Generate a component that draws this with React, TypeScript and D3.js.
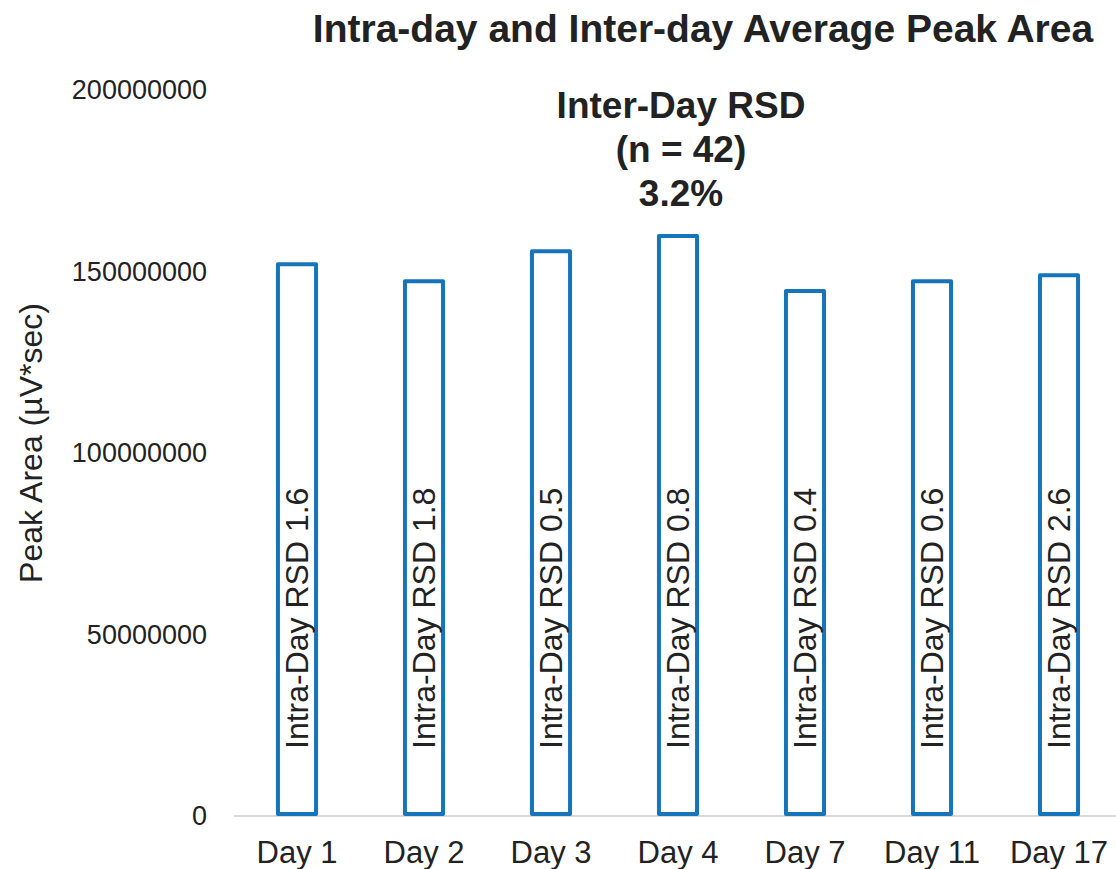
import React from "react";
import * as d3 from "d3";

const days = ["Day 1", "Day 2", "Day 3", "Day 4", "Day 7", "Day 11", "Day 17"];
const peakArea = [152000000, 147300000, 155600000, 159800000, 144600000, 147300000, 149000000];
const intraRsd = ["1.6", "1.8", "0.5", "0.8", "0.4", "0.6", "2.6"];
const yTicks = [0, 50000000, 100000000, 150000000, 200000000];
const annotationLines = ["Inter-Day RSD", "(n = 42)", "3.2%"];

const W = 1116;
const H = 869;
const FONT = "'Liberation Sans', Arial, Helvetica, sans-serif";
const BLUE = "#1574ba";

export default function App() {
  const x = d3
    .scaleBand<string>()
    .domain(days)
    .range([233.5, 1122.5])
    .paddingInner(0.7)
    .paddingOuter(0.35);
  const y = d3.scaleLinear().domain([0, 200000000]).range([816, 90]);
  const bw = x.bandwidth();

  return (
    <svg
      width={W}
      height={H}
      style={{ position: "absolute", left: 0, top: 0, background: "#fff" }}
      fontFamily={FONT}
    >
      <rect x={0} y={0} width={W} height={H} fill="#fff" />
      <text x={703} y={42} textAnchor="middle" fontSize={39} fontWeight="bold" fill="#222">
        Intra-day and Inter-day Average Peak Area
      </text>

      {yTicks.map((t) => (
        <text key={t} x={207} y={y(t)} dy="0.35em" textAnchor="end" fontSize={27} fill="#222">
          {t}
        </text>
      ))}

      <text
        transform={`translate(42, 443) rotate(-90)`}
        textAnchor="middle"
        fontSize={32}
        fill="#222"
      >
        Peak Area (µV*sec)
      </text>

      <line x1={234} x2={W} y1={y(0)} y2={y(0)} stroke="#d9d9d9" strokeWidth={2} />

      {days.map((d, i) => (
        <g key={d}>
          <rect
            x={x(d)!}
            y={y(peakArea[i])}
            width={bw}
            height={y(0) - y(peakArea[i]) - 2}
            fill="#fff"
            stroke={BLUE}
            strokeWidth={4}
            strokeLinejoin="round"
          />
          <text
            transform={`translate(${x(d)! + bw / 2}, ${y(0) - 67}) rotate(-90)`}
            dy="0.35em"
            textAnchor="start"
            fontSize={32}
            fill="#222"
          >
            {`Intra-Day RSD ${intraRsd[i]}`}
          </text>
          <text x={x(d)! + bw / 2} y={863} textAnchor="middle" fontSize={31} fill="#222">
            {d}
          </text>
        </g>
      ))}

      {annotationLines.map((l, i) => (
        <text
          key={l}
          x={x("Day 4")! + bw / 2 + 3}
          y={118 + i * 44}
          textAnchor="middle"
          fontSize={37}
          fontWeight="bold"
          fill="#222"
        >
          {l}
        </text>
      ))}
    </svg>
  );
}
